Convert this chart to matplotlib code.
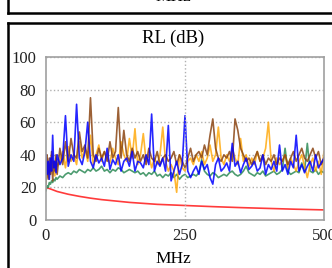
import numpy as np
import matplotlib
matplotlib.use('Agg')
from matplotlib import pyplot as plt
from matplotlib.lines import Line2D

# frequency grid (MHz): fine steps at the start, then every 5 MHz
freq = np.concatenate([np.arange(0, 21, 2), np.arange(25, 501, 5)])

red_f = [0, 10, 20, 40, 60, 80, 100, 150, 200, 250, 300, 350, 400, 450, 500]
red = [20, 18.8, 17.5, 15.8, 14.5, 13.4, 12.5, 10.8, 9.6, 8.9, 8.2, 7.6, 7.1, 6.6, 6.2]

green = [18, 21, 20, 23, 22, 24, 23, 25, 24, 26, 25,
         27, 26, 28, 29, 28, 30, 29, 31, 30, 29,
         31, 30, 32, 30, 31, 33, 30, 31, 29, 31,
         30, 32, 31, 29, 30, 31, 30, 29, 30, 28,
         29, 27, 29, 28, 30, 27, 28, 26, 28, 27,
         29, 26, 28, 25, 27, 28, 26, 27, 28, 27,
         29, 37, 30, 28, 27, 29, 28, 26, 27, 28,
         27, 29, 30, 28, 27, 28, 30, 33, 29, 28,
         27, 29, 28, 30, 27, 28, 29, 30, 28, 29,
         31, 44, 30, 28, 29, 30, 29, 35, 30, 47,
         30, 29, 31, 28, 30, 29]

orange = [30, 38, 26, 35, 28, 40, 32, 36, 27, 38, 33,
          36, 42, 32, 45, 36, 40, 34, 48, 38, 44,
          36, 52, 34, 40, 46, 36, 42, 38, 35, 44,
          38, 34, 48, 40, 36, 50, 38, 56, 34, 40,
          53, 36, 40, 32, 38, 34, 40, 57, 36, 30,
          34, 30, 17, 40, 32, 30, 36, 38, 34, 40,
          36, 42, 34, 38, 46, 36, 40, 57, 38, 34,
          40, 36, 44, 38, 34, 50, 36, 40, 33, 38,
          34, 42, 36, 38, 44, 60, 36, 30, 38, 34,
          36, 40, 32, 38, 34, 30, 36, 40, 33, 26,
          34, 38, 30, 36, 28, 42]

brown = [22, 40, 25, 38, 28, 42, 24, 36, 30, 40, 28,
         44, 34, 48, 36, 50, 40, 38, 54, 42, 46,
         38, 75, 40, 36, 44, 38, 42, 36, 48, 38,
         42, 69, 38, 55, 40, 36, 44, 38, 42, 36,
         40, 34, 44, 38, 36, 42, 34, 38, 40, 36,
         38, 42, 34, 40, 36, 32, 38, 44, 36, 40,
         42, 38, 46, 40, 52, 62, 44, 38, 36, 40,
         38, 42, 36, 62, 55, 44, 40, 36, 38, 34,
         38, 42, 36, 40, 34, 38, 36, 40, 34, 38,
         36, 40, 34, 38, 42, 36, 40, 44, 38, 36,
         40, 44, 38, 42, 34, 38]

blue = [40, 28, 36, 25, 38, 30, 52, 32, 36, 29, 40,
        34, 38, 64, 33, 40, 36, 71, 38, 34, 42,
        60, 36, 32, 40, 35, 38, 33, 44, 31, 37,
        34, 40, 30, 36, 38, 33, 42, 30, 36, 35,
        32, 40, 34, 65, 30, 36, 33, 38, 30, 58,
        24, 30, 36, 28, 34, 64, 30, 26, 30, 33,
        28, 36, 31, 34, 26, 22, 34, 38, 30, 32,
        35, 30, 47, 33, 36, 29, 34, 38, 31, 33,
        36, 30, 32, 40, 28, 34, 31, 36, 30, 46,
        30, 34, 28, 36, 32, 52, 30, 34, 29, 33,
        36, 30, 40, 32, 35, 38]

plt.rcParams['font.family'] = ['Liberation Serif', 'DejaVu Serif']

W, H = 332, 268
fig = plt.figure(figsize=(W / 100, H / 100), dpi=100)
ax = fig.add_axes([46 / W, 48 / H, 278 / W, 163 / H])

ax.plot(red_f, red, c='#ff3b3b', lw=1.2)
ax.plot(freq, green, c='#2e8b57', lw=1.2, alpha=0.85)
ax.plot(freq, orange, c='#ffa500', lw=1.2, alpha=0.8)
ax.plot(freq, brown, c='#8b4513', lw=1.2, alpha=0.85)
ax.plot(freq, blue, c='#0000ff', lw=1.2, alpha=0.85)

ax.set_xlim(0, 500)
ax.set_ylim(0, 100)
ax.set_xticks([0, 250, 500])
ax.set_yticks([0, 20, 40, 60, 80, 100])
ax.grid(axis='y', color='#b0b0b0', ls=':', lw=1)
ax.axvline(250, color='#b0b0b0', ls=':', lw=1)
ax.tick_params(length=0, labelsize=12, colors='#222222')
ax.tick_params(axis='y', pad=7)
ax.tick_params(axis='x', pad=6)
for s in ax.spines.values():
    s.set_color('#a0a0a0')
    s.set_linewidth(1.2)

fig.text(173 / W, 1 - 38 / H, 'RL (dB)', ha='center', va='center', fontsize=13.5)
fig.text(173 / W, 1 - 259 / H, 'MHz', ha='center', va='center', fontsize=12.5)
fig.text(173 / W, 1 + 3 / H, 'MHz', ha='center', va='center', fontsize=12.5)

# panel borders
for xs, ys in [([8, W], [13, 13]), ([8, 8], [0, 13]),
               ([8, W], [23, 23]), ([8, 8], [23, H])]:
    fig.add_artist(Line2D([x / W for x in xs], [1 - y / H for y in ys],
                          transform=fig.transFigure, color='black', lw=1.8))

fig.savefig('out.png', dpi=100)
